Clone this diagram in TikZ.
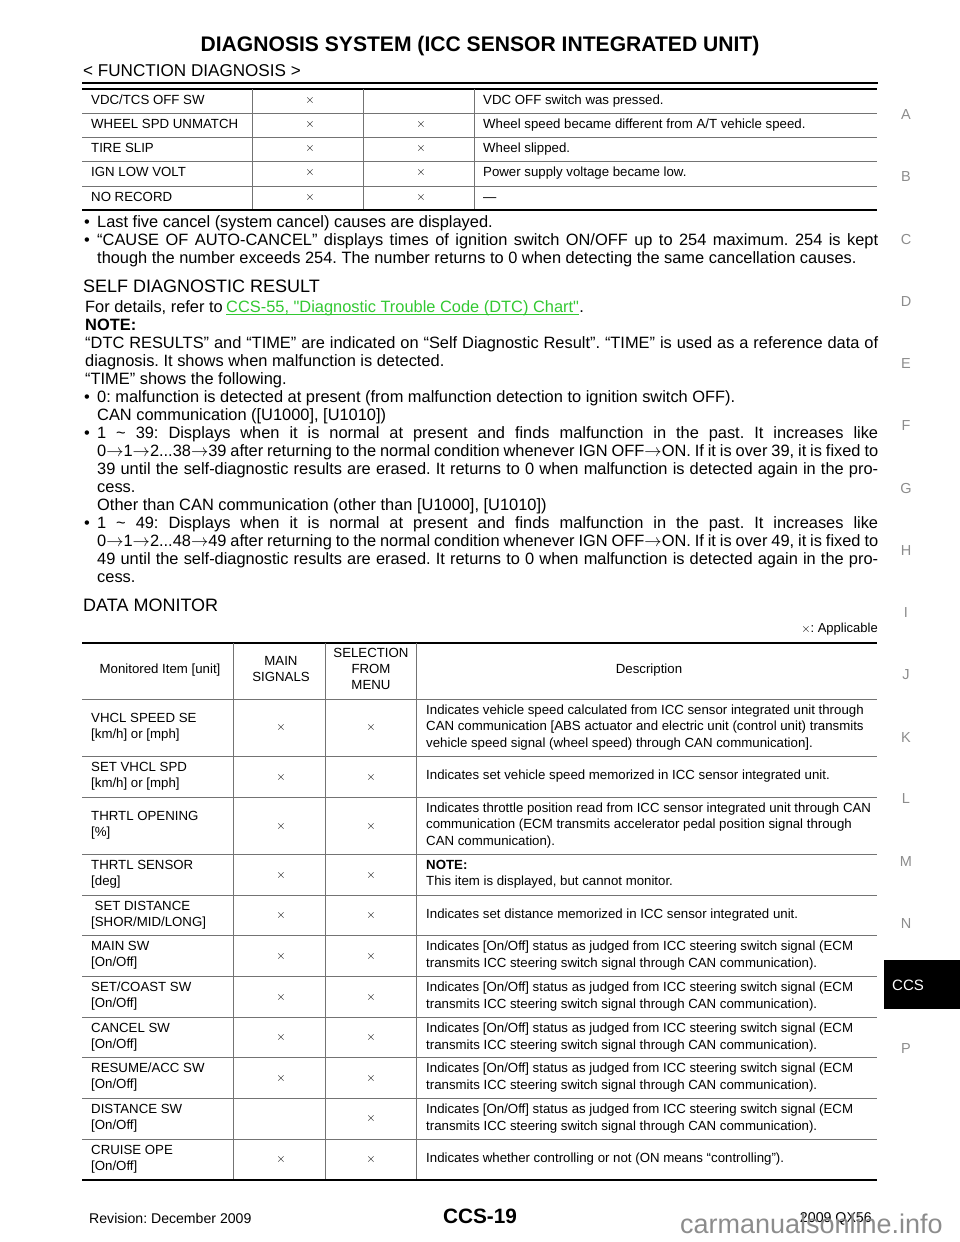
\documentclass[tikz,border=0pt]{standalone}
\usepackage{fontspec}
\setmainfont{Liberation Sans}
\newfontfamily\rawfont{Liberation Sans}
\usepackage{amsmath}
\usepackage{xcolor}
\definecolor{linkgreen}{RGB}{50,200,50}
\tikzset{
    bodytxt/.style={anchor=base west,inner sep=0pt,font=\fontsize{16.4}{18}\selectfont},
    headtxt/.style={anchor=base west,inner sep=0pt,font=\fontsize{18}{20}\selectfont},
    tbltxt/.style={anchor=base west,inner sep=0pt,font=\fontsize{13.25}{16}\selectfont},
    tblmid/.style={anchor=base,inner sep=0pt,font=\fontsize{13.25}{16}\selectfont},
    crossmark/.style={inner sep=0pt,font=\fontsize{13}{16}\selectfont},
    tabmark/.style={inner sep=0pt,text=black!45,font=\fontsize{14.5}{16}\selectfont},
    heavyrule/.style={black,line width=2pt},
    thinrule/.style={black!55,line width=1pt}
}
\begin{document}
\frenchspacing
\begin{tikzpicture}[x=1pt,y=-1pt]
    \useasboundingbox (0,0) rectangle (960,1242);

    \node (title) at (480,51) [anchor=base,inner sep=0pt,font=\fontsize{21.1}{23}\bfseries\selectfont] {DIAGNOSIS SYSTEM (ICC SENSOR INTEGRATED UNIT)};
    \node (sub) at (83,76) [anchor=base west,inner sep=0pt,font=\fontsize{17.1}{19}\selectfont] {< FUNCTION DIAGNOSIS >};
    \draw [heavyrule] (82,82.5) -- (878,82.5);

    % first table
    \draw [heavyrule] (82,88.5) -- (877,88.5);
    \draw [heavyrule] (82,210) -- (877,210);
    \foreach \y in {113,137.5,161.7,186} \draw [thinrule] (82,\y) -- (877,\y);
    \foreach \x in {252.7,363.7,474.7} \draw [thinrule] (\x,89) -- (\x,209);
    \foreach \y/\txt/\more [count=\i] in {
        104/{VDC/TCS OFF SW}/{VDC OFF switch was pressed.},
        128/{WHEEL SPD UNMATCH}/{Wheel speed became different from A/T vehicle speed.},
        152/{TIRE SLIP}/{Wheel slipped.},
        176/{IGN LOW VOLT}/{Power supply voltage became low.},
        201/{NO RECORD}/{---}
    } {
        \node (cause\i) at (91,\y) [tbltxt] {\txt};
        \node (effect\i) at (483,\y) [tbltxt] {\more};
        \node (ma\i) at (310,\y-3.5) [crossmark] {$\times$};
    }
    \foreach \y [count=\i] in {128,152,176,201}
        \node (mb\i) at (421,\y-3.5) [crossmark] {$\times$};

    % bullets under first table
    \node (bul1) at (84,227) [bodytxt] {•};
    \node (bul2) at (84,245) [bodytxt] {•};
    \node (lastfive) at (97,227) [bodytxt] {Last five cancel (system cancel) causes are displayed.};
    \node (cause) at (97,245) [bodytxt] {\hbox to 781pt{“CAUSE OF AUTO-CANCEL” displays times of ignition switch ON/OFF up to 254 maximum. 254 is kept}};
    \node (though) at (97,263) [bodytxt] {though the number exceeds 254. The number returns to 0 when detecting the same cancellation causes.};

    % self diagnostic result
    \node (selfhead) at (83,292) [headtxt] {SELF DIAGNOSTIC RESULT};
    \node (details) at (85,312) [bodytxt] {For details, refer to};
    \node (lnk) at (226,312) [bodytxt,text=linkgreen] {CCS-55, {\rawfont"}Diagnostic Trouble Code (DTC) Chart{\rawfont"}};
    \node (dot) [bodytxt] at (lnk.base east) {.};
    \draw [linkgreen,line width=1pt] ([yshift=-2.5pt]lnk.base west) -- ([yshift=-2.5pt]lnk.base east);
    \node (note) at (85,330) [bodytxt,font=\fontsize{16.4}{18}\bfseries\selectfont] {NOTE:};
    \node (dtc) at (85,348) [bodytxt] {\hbox to 793pt{“DTC RESULTS” and “TIME” are indicated on “Self Diagnostic Result”. “TIME” is used as a reference data of}};
    \node (diag) at (85,366) [bodytxt] {diagnosis. It shows when malfunction is detected.};
    \node (shows) at (85,384) [bodytxt] {“TIME” shows the following.};
    \foreach \y in {402,438,528} \node (bul\y) at (84,\y) [bodytxt] {•};
    \foreach \y/\txt [count=\i] in {
        402/{0: malfunction is detected at present (from malfunction detection to ignition switch OFF).},
        420/{CAN communication ([U1000], [U1010])},
        492/{cess.},
        510/{Other than CAN communication (other than [U1000], [U1010])},
        582/{cess.}
    } \node (plain\i) at (97,\y) [bodytxt] {\txt};
    \foreach \y/\txt [count=\i] in {
        438/{1 \textasciitilde{} 39: Displays when it is normal at present and finds malfunction in the past. It increases like},
        456/{0$\rightarrow$1$\rightarrow$2...38$\rightarrow$39 after returning to the normal condition whenever IGN OFF$\rightarrow$ON. If it is over 39, it is fixed to},
        474/{39 until the self-diagnostic results are erased. It returns to 0 when malfunction is detected again in the pro-},
        528/{1 \textasciitilde{} 49: Displays when it is normal at present and finds malfunction in the past. It increases like},
        546/{0$\rightarrow$1$\rightarrow$2...48$\rightarrow$49 after returning to the normal condition whenever IGN OFF$\rightarrow$ON. If it is over 49, it is fixed to},
        564/{49 until the self-diagnostic results are erased. It returns to 0 when malfunction is detected again in the pro-}
    } \node (full\i) at (97,\y) [bodytxt] {\hbox to 781pt{\txt\unskip}};

    % data monitor
    \node (datahead) at (83,611) [headtxt] {DATA MONITOR};
    \node (applic) at (878,632) [anchor=base east,inner sep=0pt,font=\fontsize{13}{16}\selectfont] {$\times$: Applicable};
    \draw [heavyrule] (82,642.5) -- (877,642.5);
    \draw [heavyrule] (82,1180) -- (877,1180);
    \foreach \y in {699,756,797,854.3,895,935.7,976.3,1017,1057.7,1098.7,1139.3} \draw [thinrule] (82,\y) -- (877,\y);
    \foreach \x in {233.3,325,416.3} \draw [thinrule] (\x,643) -- (\x,1179);

    % header row
    \node (hitem) at (160,673.5) [tblmid] {Monitored Item [unit]};
    \node (hmain) at (281,665.5) [tblmid] {MAIN};
    \node (hsig) at (281,681.5) [tblmid] {SIGNALS};
    \node (hsel) at (371,657.5) [tblmid] {SELECTION};
    \node (hfrom) at (371,673.5) [tblmid] {FROM};
    \node (hmenu) at (371,689.5) [tblmid] {MENU};
    \node (hdesc) at (649,673.5) [tblmid] {Description};

    % left column
    \foreach \y/\txt [count=\i] in {
        722.5/{VHCL SPEED SE}, 738.5/{[km/h] or [mph]},
        771.5/{SET VHCL SPD}, 787.5/{[km/h] or [mph]},
        820.5/{THRTL OPENING}, 836.5/{[\%]},
        869.5/{THRTL SENSOR}, 885.5/{[deg]},
        926.5/{[SHOR/MID/LONG]},
        950.5/{MAIN SW}, 966.5/{[On/Off]},
        991.5/{SET/COAST SW}, 1007.5/{[On/Off]},
        1032.5/{CANCEL SW}, 1048.5/{[On/Off]},
        1072.5/{RESUME/ACC SW}, 1088.5/{[On/Off]},
        1113.5/{DISTANCE SW}, 1129.5/{[On/Off]},
        1154.5/{CRUISE OPE}, 1170.5/{[On/Off]}
    } \node (item\i) at (91,\y) [tbltxt] {\txt};
    \node (itemset) at (94.5,910.5) [tbltxt] {SET DISTANCE};

    % marks
    \foreach \y [count=\i] in {727.5,777,826,875,915.5,956.5,997,1037.5,1078,1159.5} {
        \node (mc\i) at (281,\y) [crossmark] {$\times$};
    }
    \foreach \y [count=\i] in {727.5,777,826,875,915.5,956.5,997,1037.5,1078,1118.5,1159.5} {
        \node (md\i) at (371,\y) [crossmark] {$\times$};
    }

    % description column
    \foreach \y/\txt [count=\i] in {
        714.5/{Indicates vehicle speed calculated from ICC sensor integrated unit through},
        730.5/{CAN communication [ABS actuator and electric unit (control unit) transmits},
        747.5/{vehicle speed signal (wheel speed) through CAN communication].},
        779.5/{Indicates set vehicle speed memorized in ICC sensor integrated unit.},
        812.5/{Indicates throttle position read from ICC sensor integrated unit through CAN},
        828.5/{communication (ECM transmits accelerator pedal position signal through},
        845.5/{CAN communication).},
        885.5/{This item is displayed, but cannot monitor.},
        918.5/{Indicates set distance memorized in ICC sensor integrated unit.},
        1162.5/{Indicates whether controlling or not (ON means “controlling”).}
    } \node (desc\i) at (426,\y) [tbltxt] {\txt};
    \node (dnote) at (426,869.5) [tbltxt,font=\fontsize{13.25}{16}\bfseries\selectfont] {NOTE:};
    \foreach \y [count=\i] in {950.5,991.5,1032.5,1072.5,1113.5} {
        \node (sw\i) at (426,\y) [tbltxt] {Indicates [On/Off] status as judged from ICC steering switch signal (ECM};
        \node (swb\i) at (426,\y+16.5) [tbltxt] {transmits ICC steering switch signal through CAN communication).};
    }

    % side tabs
    \foreach \y/\txt [count=\i] in {115/A,177/B,240/C,302/D,364/E,426/F,489/G,551/H,613/I,675/J,738/K,799/L,862/M,924/N,1048/P}
        \node (tab\i) at (906,\y) [tabmark] {\txt};
    \fill [black] (884,960) rectangle (960,1009);
    \node (tabccs) at (892,985) [anchor=west,inner sep=0pt,text=white,font=\fontsize{15}{17}\selectfont] {CCS};

    % footer
    \node (rev) at (89,1223) [anchor=base west,inner sep=0pt,font=\fontsize{14.1}{16}\selectfont] {Revision: December 2009};
    \node (page) at (480,1223.5) [anchor=base,inner sep=0pt,font=\fontsize{20.8}{23}\bfseries\selectfont] {CCS-19};
    \node (model) at (872,1222) [anchor=base east,inner sep=0pt,font=\fontsize{14.2}{16}\selectfont] {2009 QX56};
    \node (mark) at (943,1233) [anchor=base east,inner sep=0pt,text=black!45,font=\fontsize{27}{30}\selectfont] {carmanualsonline.info};
\end{tikzpicture}
\end{document}
